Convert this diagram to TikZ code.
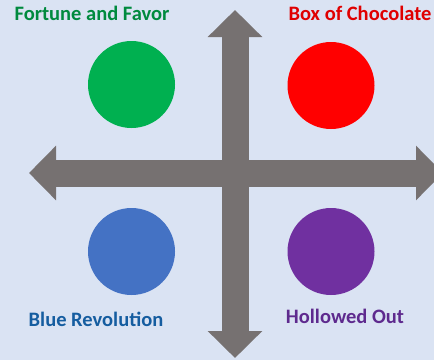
\documentclass[tikz,border=0pt]{standalone}
\usepackage{fontspec}
\setmainfont{Carlito}
\usepackage{tikz}
\usetikzlibrary{arrows.meta}
\definecolor{bgblue}{HTML}{DAE3F3}
\definecolor{axisgray}{HTML}{767171}
\definecolor{dotgreen}{HTML}{00B050}
\definecolor{dotred}{HTML}{FF0000}
\definecolor{dotblue}{HTML}{4472C4}
\definecolor{dotpurple}{HTML}{7030A0}
\definecolor{taggreen}{HTML}{008A3E}
\definecolor{tagred}{HTML}{E00000}
\definecolor{tagblue}{HTML}{155DA0}
\definecolor{tagpurple}{HTML}{5E2A8E}
\tikzstyle{dot} = [circle, minimum size=87pt, inner sep=0pt, draw=none]
\tikzstyle{tag} = [anchor=base, inner sep=0pt, font=\bfseries\fontsize{20.5}{24}\selectfont]
\tikzstyle{axis} = [axisgray, line width=27pt,
                    {Triangle[length=27pt,width=53pt]}-{Triangle[length=27pt,width=53pt]}]

\begin{document}
\begin{tikzpicture}[x=1pt, y=-1pt]
\useasboundingbox [fill=bgblue] (0,0) rectangle (434,360);
\begin{scope}
\clip (0,0) rectangle (434,360);
\coordinate (top) at (235,10);
\coordinate (bottom) at (235,358);
\coordinate (left) at (29,173);
\coordinate (right) at (443,173);
\draw [axis] (left) -- (right);
\draw [axis] (bottom) -- (top);
\end{scope}

\node (fortune) [dot, fill=dotgreen] at (131.5,84.5) {};
\node (box) [dot, fill=dotred] at (331,85.5) {};
\node (blue) [dot, fill=dotblue] at (131.5,251.5) {};
\node (hollowed) [dot, fill=dotpurple] at (331,251.5) {};

\node (fortunetag) [tag, text=taggreen] at (92,20) {Fortune and Favor};
\node (boxtag) [tag, text=tagred] at (360,20) {Box of Chocolate};
\node (bluetag) [tag, text=tagblue] at (96,326) {Blue Revolution};
\node (hollowedtag) [tag, text=tagpurple] at (345,323) {Hollowed Out};
\end{tikzpicture}
\end{document}
